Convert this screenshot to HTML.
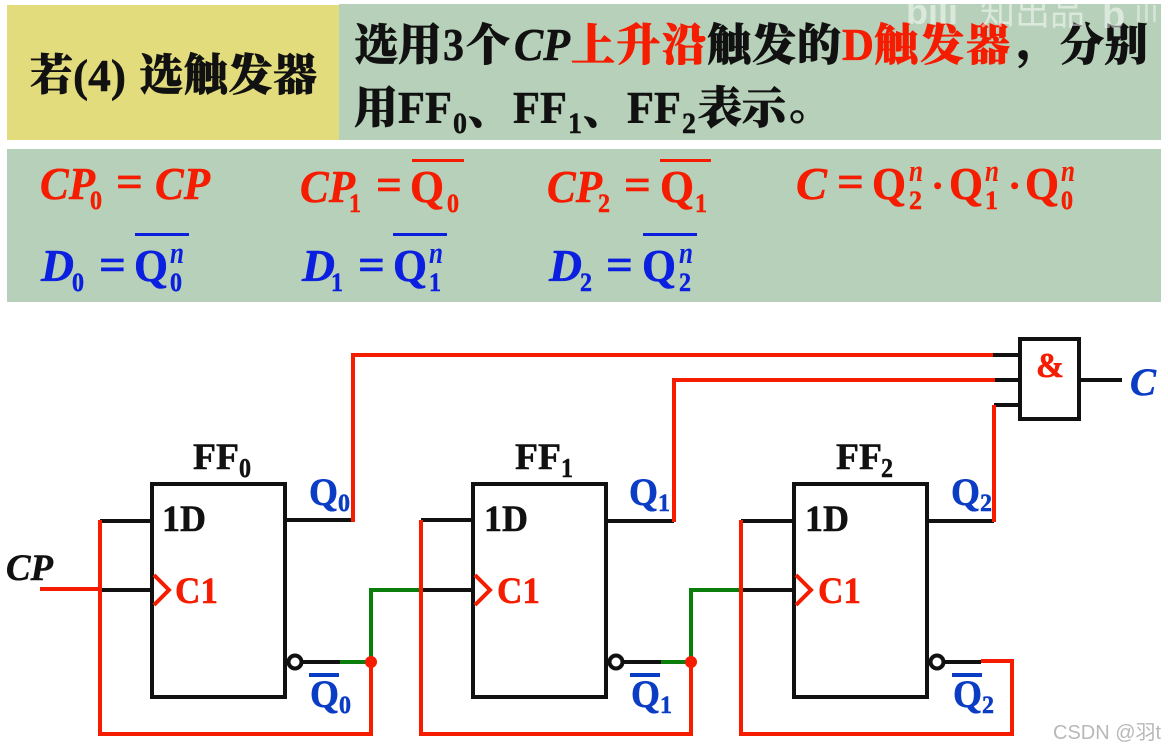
<!DOCTYPE html>
<html><head><meta charset="utf-8">
<style>
html,body{margin:0;padding:0;background:#fff;width:1168px;height:751px;overflow:hidden}
svg{display:block}
text{font-family:"Liberation Serif","Noto Serif CJK SC",serif;font-weight:bold;stroke-width:.5}
.i{font-style:italic}
.cj{font-family:"Noto Serif CJK SC","Liberation Serif",serif;font-weight:900;stroke-width:.7}
.w{fill:none;stroke-width:4;stroke-linejoin:miter}
.r{stroke:#f51c00}.k{stroke:#111}.g{stroke:#0a7d0a}
.eqr{fill:#f51c00;stroke:#f51c00}.eqb{fill:#0b1fe0;stroke:#0b1fe0}.lb{fill:#0a3cc4;stroke:#0a3cc4}.bl{fill:#111;stroke:#111}
.n{stroke-width:0;font-size:31px}
.wm{stroke:none;font-family:"Liberation Sans","Noto Sans CJK SC",sans-serif;font-weight:normal}
</style></head><body>
<svg width="1168" height="751" viewBox="0 0 1168 751" xmlns="http://www.w3.org/2000/svg">
<rect width="1168" height="751" fill="#fff"/>
<rect x="7" y="5" width="332" height="135" fill="#e2dc7c"/>
<rect x="339" y="4" width="822" height="136" fill="#b6d0b9"/>
<rect x="7" y="149" width="1154" height="153" fill="#b6d0b9"/>

<!-- title -->
<g class="bl">
<text class="cj" x="30" y="90" font-size="43">若</text>
<text x="73" y="91" font-size="46" textLength="53" lengthAdjust="spacingAndGlyphs">(4)</text>
<text class="cj" x="139" y="90" font-size="44" textLength="178">选触发器</text>

<text class="cj" x="354" y="60" font-size="44" textLength="88">选用</text>
<text x="443" y="60" font-size="46" textLength="21" lengthAdjust="spacingAndGlyphs">3</text>
<text class="cj" x="466" y="60" font-size="44">个</text>
<text class="i" x="514" y="60" font-size="46" textLength="56" lengthAdjust="spacingAndGlyphs">CP</text>
<text class="cj" x="707" y="60" font-size="44" textLength="134">触发的</text>
<text class="cj" x="1017" y="57" font-size="44">，</text>
<text class="cj" x="1060" y="60" font-size="44" textLength="88">分别</text>

<text class="cj" x="354" y="123" font-size="44">用</text>
<text x="398" y="123" font-size="46" textLength="54" lengthAdjust="spacingAndGlyphs">FF</text>
<text x="453" y="133" font-size="30" textLength="14" lengthAdjust="spacingAndGlyphs">0</text>
<text class="cj" x="468" y="124" font-size="42">、</text>
<text x="513" y="123" font-size="46" textLength="54" lengthAdjust="spacingAndGlyphs">FF</text>
<text x="568" y="133" font-size="30" textLength="14" lengthAdjust="spacingAndGlyphs">1</text>
<text class="cj" x="583" y="124" font-size="42">、</text>
<text x="627" y="123" font-size="46" textLength="54" lengthAdjust="spacingAndGlyphs">FF</text>
<text x="682" y="133" font-size="30" textLength="14" lengthAdjust="spacingAndGlyphs">2</text>
<text class="cj" x="698" y="123" font-size="44" textLength="88">表示</text>
<text class="cj" x="789" y="119" font-size="44">。</text>
</g>
<g class="eqr">
<text class="cj" x="571" y="60" font-size="44" textLength="135">上升沿</text>
<text x="842" y="60" font-size="46" textLength="32" lengthAdjust="spacingAndGlyphs">D</text>
<text class="cj" x="874" y="60" font-size="44" textLength="136">触发器</text>
</g>

<!-- equations row 1 -->
<g class="eqr" font-size="46">
<text class="i" x="40" y="199" textLength="55" lengthAdjust="spacingAndGlyphs">CP</text><text x="90" y="209" font-size="26" textLength="12" lengthAdjust="spacingAndGlyphs">0</text>
<text x="116" y="197" textLength="27" lengthAdjust="spacingAndGlyphs">=</text>
<text class="i" x="155" y="199" textLength="55" lengthAdjust="spacingAndGlyphs">CP</text>

<text class="i" x="300" y="202" textLength="55" lengthAdjust="spacingAndGlyphs">CP</text><text x="349" y="212" font-size="26" textLength="12" lengthAdjust="spacingAndGlyphs">1</text>
<text x="376" y="200" textLength="26" lengthAdjust="spacingAndGlyphs">=</text>
<text x="410" y="202" textLength="34" lengthAdjust="spacingAndGlyphs">Q</text><text x="447" y="212" font-size="26" textLength="12" lengthAdjust="spacingAndGlyphs">0</text>
<rect x="412" y="159" width="52" height="3" stroke="none"/>

<text class="i" x="547" y="202" textLength="55" lengthAdjust="spacingAndGlyphs">CP</text><text x="598" y="212" font-size="26" textLength="12" lengthAdjust="spacingAndGlyphs">2</text>
<text x="624" y="200" textLength="27" lengthAdjust="spacingAndGlyphs">=</text>
<text x="660" y="202" textLength="34" lengthAdjust="spacingAndGlyphs">Q</text><text x="695" y="212" font-size="26" textLength="12" lengthAdjust="spacingAndGlyphs">1</text>
<rect x="660" y="159" width="51" height="3" stroke="none"/>

<text class="i" x="796" y="199" textLength="31" lengthAdjust="spacingAndGlyphs">C</text>
<text x="837" y="197" textLength="27" lengthAdjust="spacingAndGlyphs">=</text>
<text x="872" y="199" textLength="34" lengthAdjust="spacingAndGlyphs">Q</text><text class="i n" x="909" y="181" textLength="14" lengthAdjust="spacingAndGlyphs">n</text><text x="909" y="209" font-size="26" textLength="13" lengthAdjust="spacingAndGlyphs">2</text>
<text x="931" y="199" font-size="40">·</text>
<text x="949" y="199" textLength="34" lengthAdjust="spacingAndGlyphs">Q</text><text class="i n" x="985" y="181" textLength="14" lengthAdjust="spacingAndGlyphs">n</text><text x="985" y="209" font-size="26" textLength="13" lengthAdjust="spacingAndGlyphs">1</text>
<text x="1008" y="199" font-size="40">·</text>
<text x="1025" y="199" textLength="34" lengthAdjust="spacingAndGlyphs">Q</text><text class="i n" x="1061" y="181" textLength="14" lengthAdjust="spacingAndGlyphs">n</text><text x="1061" y="209" font-size="26" textLength="12" lengthAdjust="spacingAndGlyphs">0</text>
</g>
<!-- equations row 2 -->
<g class="eqb" font-size="46">
<text class="i" x="41" y="281" textLength="33" lengthAdjust="spacingAndGlyphs">D</text><text x="72" y="291" font-size="26" textLength="12" lengthAdjust="spacingAndGlyphs">0</text>
<text x="99" y="280" textLength="27" lengthAdjust="spacingAndGlyphs">=</text>
<text x="134" y="281" textLength="34" lengthAdjust="spacingAndGlyphs">Q</text><text class="i n" x="170" y="263" textLength="14" lengthAdjust="spacingAndGlyphs">n</text><text x="170" y="291" font-size="26" textLength="12" lengthAdjust="spacingAndGlyphs">0</text>
<rect x="135" y="233" width="54" height="3" stroke="none"/>

<text class="i" x="302" y="281" textLength="33" lengthAdjust="spacingAndGlyphs">D</text><text x="331" y="291" font-size="26" textLength="12" lengthAdjust="spacingAndGlyphs">1</text>
<text x="358" y="280" textLength="27" lengthAdjust="spacingAndGlyphs">=</text>
<text x="393" y="281" textLength="34" lengthAdjust="spacingAndGlyphs">Q</text><text class="i n" x="429" y="263" textLength="14" lengthAdjust="spacingAndGlyphs">n</text><text x="429" y="291" font-size="26" textLength="12" lengthAdjust="spacingAndGlyphs">1</text>
<rect x="393" y="233" width="54" height="3" stroke="none"/>

<text class="i" x="549" y="281" textLength="33" lengthAdjust="spacingAndGlyphs">D</text><text x="580" y="291" font-size="26" textLength="12" lengthAdjust="spacingAndGlyphs">2</text>
<text x="606" y="280" textLength="27" lengthAdjust="spacingAndGlyphs">=</text>
<text x="642" y="281" textLength="34" lengthAdjust="spacingAndGlyphs">Q</text><text class="i n" x="679" y="263" textLength="14" lengthAdjust="spacingAndGlyphs">n</text><text x="679" y="291" font-size="26" textLength="12" lengthAdjust="spacingAndGlyphs">2</text>
<rect x="643" y="233" width="54" height="3" stroke="none"/>
</g>

<!-- flip-flop boxes -->
<g class="w k">
<rect x="152" y="484" width="133" height="213"/>
<rect x="473" y="484" width="133" height="213"/>
<rect x="794" y="484" width="133" height="213"/>
<rect x="1020" y="339" width="59" height="80"/>
<path d="M100 521H152M100 590H152M285 520H353M302 662H340"/>
<path d="M421 520H473M421 590H473M606 521H674M623 662H661"/>
<path d="M741 521H794M741 590H794M927 521H994M944 662H981"/>
<path d="M993 355H1020M995 380H1020M994 405H1020M1080 380H1122"/>
</g>
<g class="w" stroke="#111">
<circle cx="295" cy="662" r="6.5" fill="#fff"/>
<circle cx="616" cy="662" r="6.5" fill="#fff"/>
<circle cx="937" cy="662" r="6.5" fill="#fff"/>
</g>
<!-- green wires -->
<g class="w g">
<path d="M340 662H371V590H420"/>
<path d="M661 662H691V590H741"/>
</g>
<!-- red wires -->
<g class="w r">
<path d="M40 589H100"/>
<path d="M100 520V734H371V662"/>
<path d="M421 520V734H691V662"/>
<path d="M741 520V734H1012V661H981"/>
<path d="M353 522V355H993"/>
<path d="M674 522V380H995"/>
<path d="M994 522V405"/>
<path d="M154 575L169 590L154 605"/>
<path d="M475 575L490 590L475 605"/>
<path d="M796 575L811 590L796 605"/>
</g>
<circle cx="371" cy="662" r="6" fill="#f51c00"/>
<circle cx="691" cy="662" r="6" fill="#f51c00"/>

<!-- labels -->
<g class="bl" font-size="37">
<text x="193" y="469" textLength="46" lengthAdjust="spacingAndGlyphs">FF</text><text x="239" y="477" font-size="27" textLength="12" lengthAdjust="spacingAndGlyphs">0</text>
<text x="515" y="469" textLength="46" lengthAdjust="spacingAndGlyphs">FF</text><text x="561" y="477" font-size="27" textLength="12" lengthAdjust="spacingAndGlyphs">1</text>
<text x="836" y="469" textLength="46" lengthAdjust="spacingAndGlyphs">FF</text><text x="881" y="477" font-size="27" textLength="12" lengthAdjust="spacingAndGlyphs">2</text>
<text x="162" y="531" textLength="44" lengthAdjust="spacingAndGlyphs">1D</text>
<text x="484" y="531" textLength="44" lengthAdjust="spacingAndGlyphs">1D</text>
<text x="805" y="531" textLength="44" lengthAdjust="spacingAndGlyphs">1D</text>
<text class="i" x="6" y="580" textLength="47" lengthAdjust="spacingAndGlyphs">CP</text>
</g>
<g class="eqr" font-size="37">
<text x="175" y="603" textLength="43" lengthAdjust="spacingAndGlyphs">C1</text>
<text x="497" y="603" textLength="43" lengthAdjust="spacingAndGlyphs">C1</text>
<text x="818" y="603" textLength="43" lengthAdjust="spacingAndGlyphs">C1</text>
<text x="1036" y="377" font-size="35" textLength="28" lengthAdjust="spacingAndGlyphs">&amp;</text>
</g>
<g class="lb" font-size="39">
<text x="309" y="505" textLength="29" lengthAdjust="spacingAndGlyphs">Q</text><text x="338" y="511" font-size="25" textLength="12" lengthAdjust="spacingAndGlyphs">0</text>
<text x="629" y="505" textLength="29" lengthAdjust="spacingAndGlyphs">Q</text><text x="658" y="511" font-size="25" textLength="12" lengthAdjust="spacingAndGlyphs">1</text>
<text x="951" y="505" textLength="29" lengthAdjust="spacingAndGlyphs">Q</text><text x="980" y="511" font-size="25" textLength="12" lengthAdjust="spacingAndGlyphs">2</text>
<text x="310" y="707" textLength="29" lengthAdjust="spacingAndGlyphs">Q</text><text x="339" y="713" font-size="25" textLength="12" lengthAdjust="spacingAndGlyphs">0</text>
<text x="631" y="707" textLength="29" lengthAdjust="spacingAndGlyphs">Q</text><text x="660" y="713" font-size="25" textLength="12" lengthAdjust="spacingAndGlyphs">1</text>
<text x="953" y="707" textLength="29" lengthAdjust="spacingAndGlyphs">Q</text><text x="982" y="713" font-size="25" textLength="12" lengthAdjust="spacingAndGlyphs">2</text>
<rect x="309" y="673" width="30" height="4" stroke="none"/>
<rect x="630" y="673" width="30" height="4" stroke="none"/>
<rect x="952" y="673" width="30" height="4" stroke="none"/>
<text class="i" x="1130" y="395" font-size="39">C</text>
</g>

<!-- watermarks -->
<text class="wm" x="906" y="24" font-size="36" fill="#fff" fill-opacity=".5" style="font-weight:bold">bili</text>
<text class="wm" x="980" y="25" font-size="35" fill="#fff" fill-opacity=".5">知出品</text>
<text class="wm" x="1102" y="28" font-size="38" fill="#fff" fill-opacity=".5" style="font-weight:bold">b</text>
<text class="wm" x="1134" y="22" font-size="32" fill="#fff" fill-opacity=".4">ılı</text>
<text class="wm" x="1053" y="739" font-size="20" fill="#b8b8b8">CSDN @羽t</text>
</svg>
</body></html>
